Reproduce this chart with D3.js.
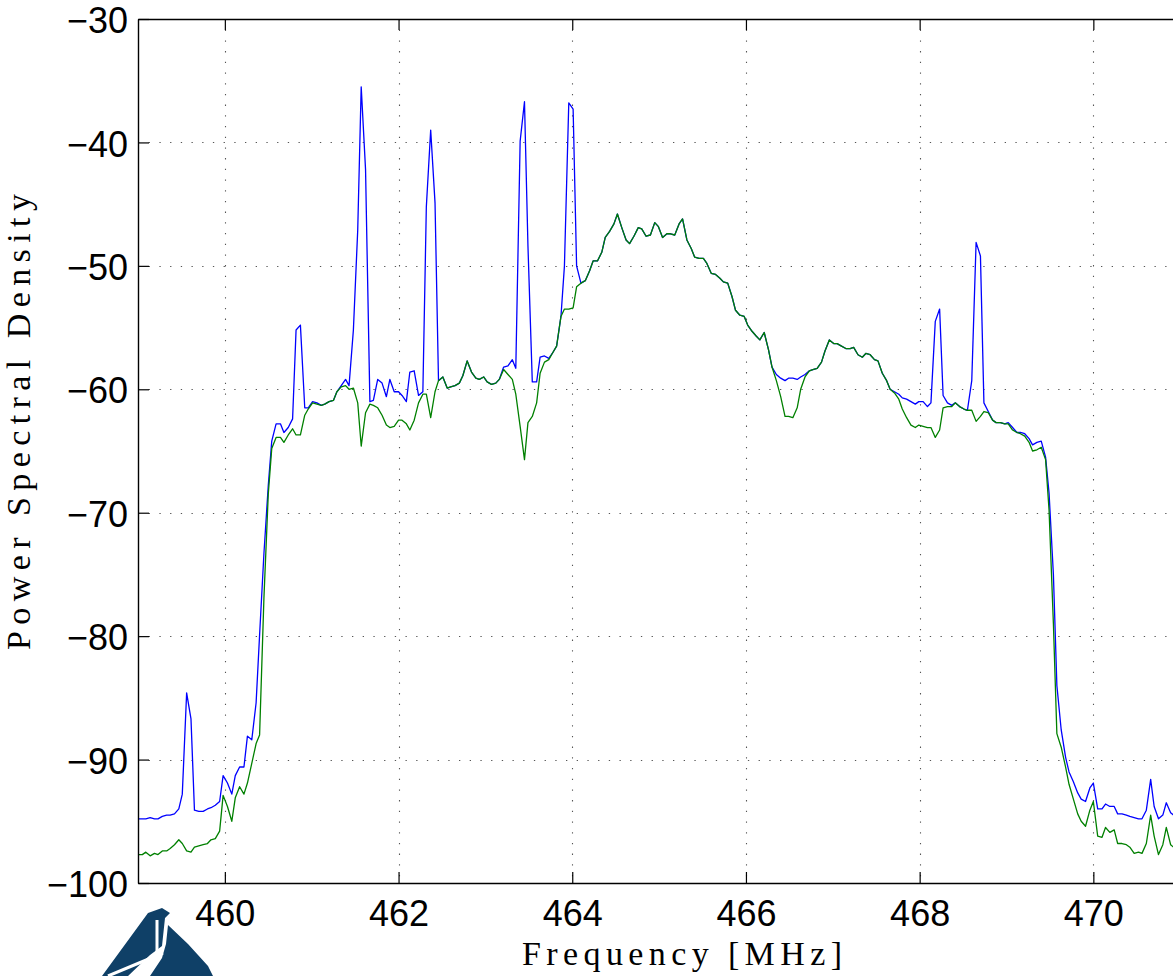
<!doctype html>
<html lang="en">
  <head>
    <meta charset="UTF-8" />
    <title>Power Spectral Density</title>
    <script src="https://d3js.org/d3.v7.min.js"></script>
    <style>
      body {
        margin: 0;
        padding: 0;
        background-color: #ffffff;
      }

      svg {
        display: block;
      }

      .tick-label {
        font-family: 'Liberation Sans', Arial, sans-serif;
        font-size: 36px;
        fill: #000000;
      }

      .axis-title {
        font-family: 'Liberation Serif', 'Times New Roman', serif;
        font-size: 34px;
        fill: #000000;
      }
    </style>
  </head>
  <body>
    <div id="chart"></div>

    <script>
      // Frequency bins (MHz)
      const freq = [
        459.00, 459.05, 459.09, 459.14, 459.19, 459.23, 459.28, 459.33, 459.37, 459.42,
        459.47, 459.51, 459.56, 459.61, 459.65, 459.70, 459.75, 459.80, 459.84, 459.89,
        459.94, 459.98, 460.03, 460.08, 460.12, 460.17, 460.22, 460.26, 460.31, 460.36,
        460.40, 460.45, 460.50, 460.54, 460.59, 460.64, 460.68, 460.73, 460.78, 460.82,
        460.87, 460.92, 460.96, 461.01, 461.06, 461.11, 461.15, 461.20, 461.25, 461.29,
        461.34, 461.39, 461.43, 461.48, 461.53, 461.57, 461.62, 461.67, 461.71, 461.76,
        461.81, 461.86, 461.90, 461.95, 462.00, 462.04, 462.09, 462.13, 462.18, 462.23,
        462.28, 462.32, 462.37, 462.42, 462.46, 462.51, 462.56, 462.60, 462.65, 462.70,
        462.74, 462.79, 462.84, 462.89, 462.93, 462.98, 463.02, 463.07, 463.12, 463.16,
        463.21, 463.26, 463.31, 463.35, 463.40, 463.45, 463.49, 463.54, 463.59, 463.63,
        463.68, 463.73, 463.77, 463.82, 463.87, 463.91, 463.96, 464.01, 464.05, 464.10,
        464.15, 464.20, 464.24, 464.29, 464.34, 464.38, 464.43, 464.48, 464.52, 464.57,
        464.62, 464.66, 464.71, 464.76, 464.80, 464.85, 464.90, 464.95, 464.99, 465.04,
        465.09, 465.13, 465.18, 465.23, 465.27, 465.32, 465.37, 465.41, 465.46, 465.51,
        465.55, 465.60, 465.65, 465.70, 465.74, 465.79, 465.84, 465.88, 465.93, 465.98,
        466.02, 466.07, 466.12, 466.16, 466.21, 466.26, 466.30, 466.35, 466.40, 466.45,
        466.49, 466.54, 466.59, 466.63, 466.68, 466.73, 466.77, 466.82, 466.87, 466.91,
        466.96, 467.01, 467.05, 467.10, 467.15, 467.20, 467.24, 467.29, 467.34, 467.38,
        467.43, 467.48, 467.52, 467.57, 467.62, 467.66, 467.71, 467.76, 467.80, 467.85,
        467.90, 467.95, 467.99, 468.04, 468.09, 468.13, 468.18, 468.23, 468.27, 468.32,
        468.37, 468.41, 468.46, 468.51, 468.55, 468.60, 468.65, 468.70, 468.74, 468.79,
        468.84, 468.88, 468.93, 468.98, 469.02, 469.07, 469.12, 469.16, 469.21, 469.26,
        469.30, 469.35, 469.40, 469.45, 469.49, 469.54, 469.58, 469.63, 469.68, 469.72,
        469.77, 469.82, 469.86, 469.91, 469.96, 470.00, 470.05, 470.10, 470.14, 470.19,
        470.24, 470.28, 470.33, 470.38, 470.42, 470.47, 470.52, 470.56, 470.61, 470.66,
        470.70, 470.75, 470.80, 470.84, 470.89, 470.94,
      ]

      // PSD with the narrowband carriers present (blue)
      const bluePsd = [
        -94.8, -94.8, -94.8, -94.7, -94.8, -94.8, -94.6, -94.5, -94.5, -94.4,
        -94.0, -92.8, -84.6, -86.7, -94.1, -94.2, -94.2, -94.0, -93.9, -93.7,
        -93.4, -91.3, -91.9, -92.8, -91.3, -90.6, -90.6, -88.1, -88.4, -85.4,
        -79.9, -73.3, -67.8, -64.2, -62.8, -62.8, -63.5, -63.1, -62.4, -55.2,
        -54.8, -61.5, -61.5, -61.0, -61.1, -61.3, -61.2, -61.0, -60.9, -60.2,
        -59.7, -59.2, -59.7, -55.2, -47.1, -35.5, -42.2, -61.0, -60.9, -59.2,
        -59.5, -60.6, -59.2, -60.2, -60.2, -60.5, -61.0, -58.6, -58.5, -60.5,
        -60.2, -45.2, -39.0, -44.9, -59.3, -59.0, -59.9, -59.8, -59.7, -59.5,
        -58.9, -57.7, -58.6, -59.1, -59.2, -59.0, -59.4, -59.6, -59.5, -59.2,
        -58.2, -58.1, -57.6, -58.3, -39.9, -36.7, -48.4, -59.4, -59.4, -57.4,
        -57.3, -57.5, -57.1, -56.5, -54.1, -50.0, -36.8, -37.3, -50.0, -51.4,
        -51.2, -50.4, -49.6, -49.6, -48.9, -47.7, -47.2, -46.6, -45.8, -46.9,
        -47.9, -48.2, -47.6, -46.9, -47.0, -47.6, -47.5, -46.5, -46.8, -47.7,
        -47.4, -47.4, -47.5, -46.6, -46.2, -47.9, -48.6, -49.3, -49.4, -49.4,
        -49.8, -50.6, -50.7, -51.0, -51.3, -51.4, -52.5, -53.6, -54.0, -54.1,
        -54.8, -55.3, -55.7, -56.0, -55.4, -56.8, -58.2, -58.8, -59.1, -59.3,
        -59.1, -59.1, -59.2, -59.0, -58.8, -58.5, -58.4, -58.3, -57.8, -56.9,
        -56.0, -56.3, -56.3, -56.5, -56.7, -56.7, -56.6, -57.2, -57.4, -57.1,
        -57.2, -57.6, -57.7, -58.7, -59.3, -60.0, -60.2, -60.4, -60.7, -60.8,
        -61.0, -61.2, -61.0, -61.0, -61.4, -61.1, -54.5, -53.5, -60.5, -61.1,
        -61.3, -61.1, -61.4, -61.6, -61.7, -59.3, -48.1, -49.2, -61.1, -61.8,
        -62.5, -62.7, -62.7, -62.8, -62.7, -63.1, -63.5, -63.5, -63.6, -64.0,
        -64.5, -64.3, -64.2, -65.5, -68.4, -75.0, -84.0, -87.6, -89.8, -91.0,
        -91.8, -92.7, -93.2, -93.4, -92.3, -91.9, -94.0, -94.0, -93.6, -93.8,
        -93.8, -94.4, -94.4, -94.5, -94.6, -94.7, -94.8, -94.8, -94.1, -91.6,
        -93.8, -94.8, -94.5, -93.5, -94.3, -94.6,
      ]

      // PSD after the carriers are removed (green)
      const greenPsd = [
        -97.7, -97.7, -97.5, -97.8, -97.6, -97.7, -97.4, -97.4, -97.2, -96.9,
        -96.5, -96.8, -97.4, -97.5, -97.1, -97.0, -96.9, -96.8, -96.5, -96.4,
        -95.8, -92.9, -93.8, -95.0, -93.1, -92.2, -92.8, -91.9, -90.3, -88.7,
        -88.0, -76.9, -68.5, -64.8, -63.9, -63.9, -64.3, -63.7, -63.2, -63.7,
        -63.7, -62.1, -61.6, -61.1, -61.2, -61.3, -61.2, -61.0, -60.9, -60.2,
        -59.8, -59.7, -60.0, -59.9, -61.1, -64.6, -61.9, -61.2, -61.3, -61.5,
        -62.1, -62.9, -63.1, -63.0, -62.5, -62.5, -62.8, -63.3, -62.5, -61.1,
        -60.4, -60.4, -62.3, -60.2, -59.3, -59.0, -59.9, -59.8, -59.7, -59.5,
        -58.9, -57.7, -58.6, -59.1, -59.2, -59.0, -59.4, -59.6, -59.5, -59.2,
        -58.4, -58.8, -59.2, -60.4, -63.0, -65.7, -62.7, -62.2, -61.1, -58.7,
        -57.8, -57.6, -57.1, -56.5, -54.1, -53.5, -53.5, -53.4, -51.7, -51.4,
        -51.2, -50.4, -49.6, -49.6, -48.9, -47.7, -47.2, -46.6, -45.8, -46.9,
        -47.9, -48.2, -47.6, -46.9, -47.0, -47.6, -47.5, -46.5, -46.8, -47.7,
        -47.4, -47.4, -47.5, -46.6, -46.2, -47.9, -48.6, -49.3, -49.4, -49.4,
        -49.8, -50.6, -50.7, -51.0, -51.3, -51.4, -52.5, -53.6, -54.0, -54.1,
        -54.8, -55.3, -55.7, -56.0, -55.4, -56.8, -58.2, -59.3, -60.6, -62.2,
        -62.2, -62.3, -61.5, -60.0, -59.0, -58.5, -58.4, -58.3, -57.8, -56.9,
        -56.0, -56.3, -56.3, -56.5, -56.7, -56.7, -56.6, -57.2, -57.4, -57.1,
        -57.2, -57.6, -57.7, -58.7, -59.3, -60.0, -60.3, -60.8, -61.6, -62.3,
        -62.9, -63.1, -62.9, -63.0, -63.1, -63.1, -63.9, -63.3, -61.5, -61.4,
        -61.4, -61.1, -61.4, -61.6, -61.7, -61.7, -62.6, -62.2, -61.8, -61.9,
        -62.5, -62.7, -62.7, -62.8, -62.8, -63.3, -63.5, -63.6, -63.8, -64.3,
        -65.0, -64.9, -64.7, -65.7, -69.8, -79.0, -87.9, -89.0, -90.6, -92.0,
        -93.2, -94.4, -95.0, -95.4, -94.1, -93.4, -96.2, -96.3, -95.5, -95.9,
        -95.7, -96.8, -96.8, -96.9, -97.1, -97.6, -97.5, -97.6, -96.8, -94.5,
        -96.2, -97.7, -96.9, -95.5, -96.9, -97.2,
      ]

      const xTicks = [460, 462, 464, 466, 468, 470]
      const yTicks = [-100, -90, -80, -70, -60, -50, -40, -30]

      const width = 1173
      const height = 976
      const plot = { left: 138, top: 19, right: 1180.2, bottom: 883 }

      const svg = d3
        .select('#chart')
        .append('svg')
        .attr('width', width)
        .attr('height', height)

      const x = d3.scaleLinear().domain([459, 471]).range([plot.left, plot.right])
      const y = d3.scaleLinear().domain([-100, -30]).range([plot.bottom, plot.top])

      // Dotted grid
      const grid = svg
        .append('g')
        .attr('stroke', '#555555')
        .attr('stroke-width', 1.1)
        .attr('stroke-dasharray', '1.3,9.4')

      grid
        .selectAll('.vgrid')
        .data(xTicks)
        .enter()
        .append('line')
        .attr('x1', (d) => Math.round(x(d)) + 0.5)
        .attr('x2', (d) => Math.round(x(d)) + 0.5)
        .attr('y1', plot.top)
        .attr('y2', plot.bottom)

      grid
        .selectAll('.hgrid')
        .data(yTicks.slice(1, -1))
        .enter()
        .append('line')
        .attr('y1', (d) => Math.round(y(d)) + 0.5)
        .attr('y2', (d) => Math.round(y(d)) + 0.5)
        .attr('x1', plot.left)
        .attr('x2', plot.right)

      // Data lines, clipped to the axes box
      svg
        .append('clipPath')
        .attr('id', 'plot-clip')
        .append('rect')
        .attr('x', plot.left)
        .attr('y', plot.top)
        .attr('width', plot.right - plot.left)
        .attr('height', plot.bottom - plot.top)

      const line = (values) =>
        d3
          .line()
          .x((d, i) => x(freq[i]))
          .y((d) => y(d))(values)

      const lines = svg.append('g').attr('clip-path', 'url(#plot-clip)').attr('fill', 'none')

      lines
        .append('path')
        .attr('d', line(bluePsd))
        .attr('stroke', '#0000ff')
        .attr('stroke-width', 1.3)
        .attr('stroke-linejoin', 'round')

      lines
        .append('path')
        .attr('d', line(greenPsd))
        .attr('stroke', '#008000')
        .attr('stroke-width', 1.3)
        .attr('stroke-linejoin', 'round')

      // Axes with inward ticks (MATLAB style)
      const styleAxis = (g) => {
        g.select('.domain').attr('stroke', '#000000').attr('stroke-width', 1.4)
        g.selectAll('.tick line').attr('stroke', '#000000').attr('stroke-width', 1.2)
        g.selectAll('.tick text')
          .attr('class', 'tick-label')
          .attr('font-family', null)
          .attr('font-size', null)
      }

      svg
        .append('g')
        .attr('transform', `translate(0, ${plot.bottom})`)
        .call(
          d3
            .axisBottom(x)
            .tickValues(xTicks)
            .tickSizeInner(-11)
            .tickSizeOuter(0)
            .tickPadding(17)
            .tickFormat(d3.format('d'))
        )
        .call(styleAxis)

      svg
        .append('g')
        .attr('transform', `translate(0, ${plot.top})`)
        .call(d3.axisTop(x).tickValues(xTicks).tickSizeInner(-11).tickSizeOuter(0).tickFormat(''))
        .call(styleAxis)

      svg
        .append('g')
        .attr('transform', `translate(${plot.left}, 0)`)
        .call(
          d3
            .axisLeft(y)
            .tickValues(yTicks)
            .tickSizeInner(-11)
            .tickSizeOuter(0)
            .tickPadding(10)
            .tickFormat(d3.format('d'))
        )
        .call(styleAxis)
        .call((g) => g.selectAll('.tick text').attr('dy', '0.38em'))

      // Axis titles
      svg
        .append('text')
        .attr('class', 'axis-title')
        .attr('x', 522)
        .attr('y', 965)
        .attr('textLength', 320)
        .attr('lengthAdjust', 'spacing')
        .text('Frequency [MHz]')

      svg
        .append('text')
        .attr('class', 'axis-title')
        .attr('transform', 'translate(30, 650) rotate(-90)')
        .attr('textLength', 456)
        .attr('lengthAdjust', 'spacing')
        .text('Power Spectral Density')

      // Institution logo peeking in at the lower left
      const logo = svg.append('g').attr('fill', '#0f4067')

      logo
        .append('path')
        .attr('d', 'M148,913 L162,908 L170,913 L165,918 L162,946 L150,955 L128,976 L102,976 Z')

      logo
        .append('path')
        .attr('d', 'M168,925 L188,944 L208,966 L213,976 L150,976 L162,958 L166,944 Z')

      logo
        .append('path')
        .attr('d', 'M108,976 L163,953 M157,920 L157,952')
        .attr('fill', 'none')
        .attr('stroke', '#ffffff')
        .attr('stroke-width', 3)
    </script>
  </body>
</html>
